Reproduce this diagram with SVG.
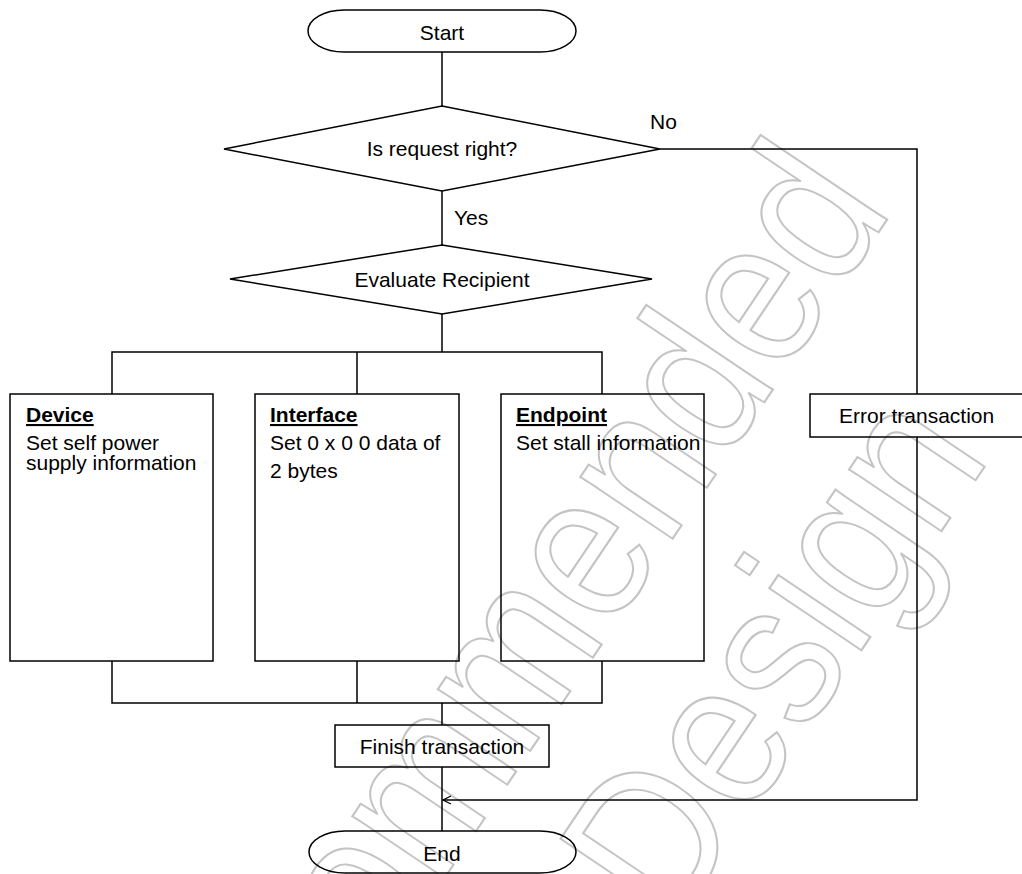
<svg xmlns="http://www.w3.org/2000/svg" width="1022" height="874" viewBox="0 0 1022 874">
<style>
.wm{font-family:"Liberation Sans",Arial,sans-serif;font-size:210px;fill:none;stroke:#c4c4c4;stroke-width:2}
.s{fill:none;stroke:#000;stroke-width:1.5}
.t{font-family:"Liberation Sans",Arial,sans-serif;font-size:21px;fill:#000}
.c{text-anchor:middle}
.b{font-weight:bold;text-decoration:underline}
.ln{fill:none;stroke:#000;stroke-width:1.5}
</style>
<defs>
<marker id="ah" markerWidth="10" markerHeight="10" refX="9" refY="5" orient="auto" markerUnits="userSpaceOnUse">
<path d="M1,1 L9,5 L1,9" fill="none" stroke="#000" stroke-width="1.2"/>
</marker>
</defs>
<rect width="1022" height="874" fill="#fff"/>
<g id="watermark">
<text class="wm" vector-effect="non-scaling-stroke" transform="translate(198,1245) rotate(-56.1) scale(0.876,1)">Recommended</text>
<text class="wm" vector-effect="non-scaling-stroke" transform="translate(672,932) rotate(-56.1) scale(0.876,1)">Design</text>
</g>
<g id="connectors">
<path class="ln" d="M442,52 V106"/>
<path class="ln" d="M442,191 V245"/>
<path class="ln" d="M442,314 V352"/>
<path class="ln" d="M112,394 V352 H602 V394 M357,352 V394"/>
<path class="ln" d="M112,661 V703 H602 V661 M357,661 V703"/>
<path class="ln" d="M442,703 V725"/>
<path class="ln" d="M442,767 V831"/>
<path class="ln" d="M660,149 H917 V394"/>
<path class="ln" d="M917,437 V800 H443" marker-end="url(#ah)"/>
<text class="t" x="650" y="129">No</text>
<text class="t" x="454" y="225">Yes</text>
</g>
<g id="start">
<rect class="s" x="308" y="10" width="268" height="42" rx="36" ry="21"/>
<text class="t c" x="442" y="40">Start</text>
</g>
<g id="check">
<polygon class="s" points="442,106 660,149 442,191 224,149"/>
<text class="t c" x="442" y="156">Is request right?</text>
</g>
<g id="evaluate">
<polygon class="s" points="442,245 652,279 442,314 230,279"/>
<text class="t c" x="442" y="287">Evaluate Recipient</text>
</g>
<g id="device">
<rect class="s" x="10" y="394" width="203" height="267"/>
<text class="t b" x="26" y="422">Device</text>
<text class="t" x="26" y="450">Set self power</text>
<text class="t" x="26" y="470">supply information</text>
</g>
<g id="interface">
<rect class="s" x="255" y="394" width="204" height="267"/>
<text class="t b" x="270" y="422">Interface</text>
<text class="t" x="270" y="450">Set 0 x 0 0 data of</text>
<text class="t" x="270" y="478">2 bytes</text>
</g>
<g id="endpoint">
<rect class="s" x="501" y="394" width="203" height="267"/>
<text class="t b" x="516" y="422">Endpoint</text>
<text class="t" x="516" y="450">Set stall information</text>
</g>
<g id="error">
<rect class="s" x="810" y="394" width="214" height="43"/>
<text class="t" x="839" y="423">Error transaction</text>
</g>
<g id="finish">
<rect class="s" x="335" y="725" width="214" height="42"/>
<text class="t c" x="442" y="754">Finish transaction</text>
</g>
<g id="end">
<rect class="s" x="309" y="831" width="267" height="42" rx="36" ry="21"/>
<text class="t c" x="442" y="861">End</text>
</g>
</svg>
